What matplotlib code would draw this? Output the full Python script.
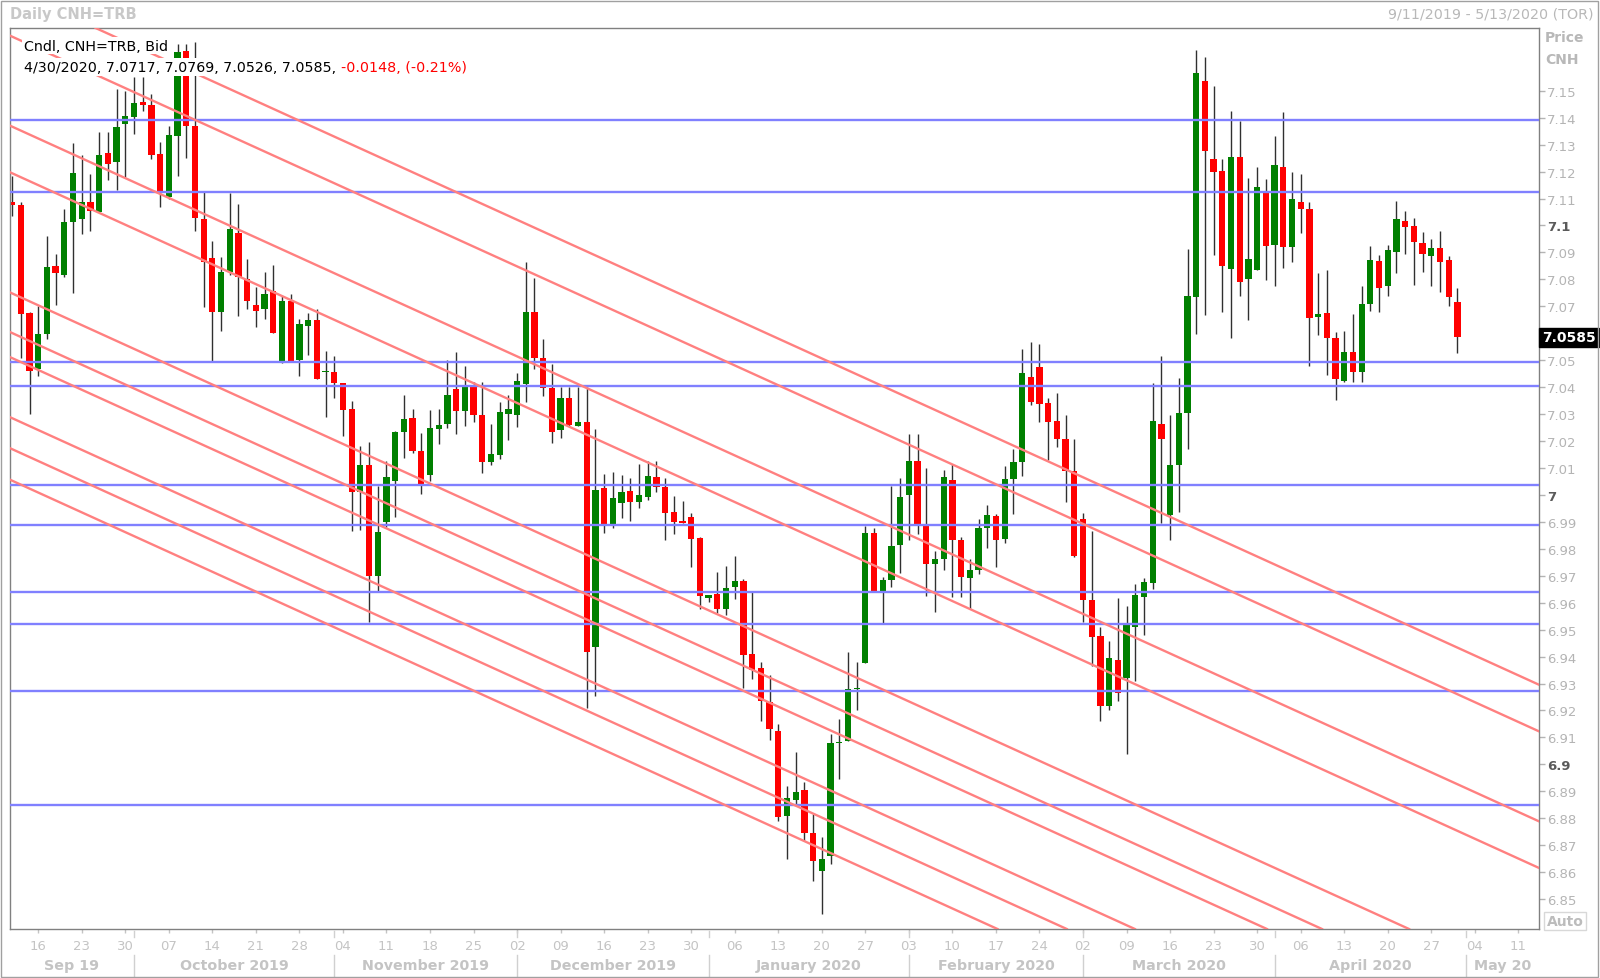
import numpy as np
import pandas as pd
import matplotlib
matplotlib.use('Agg')
import matplotlib.pyplot as plt
from matplotlib import transforms as mtrans
from matplotlib.patches import Rectangle

plt.rcParams['font.family'] = ['DejaVu Sans']

# trading days on the axis (weekdays), 9/11/2019 - 5/13/2020
dates = pd.bdate_range('2019-09-11', '2020-05-13')

# daily CNH=TRB bid candles, 9/11/2019 - 4/30/2020
opens = [
    7.1089, 7.1076, 7.0674, 7.0468, 7.0597, 7.0851, 7.0816, 7.1014, 7.1024, 7.1089,
    7.1050, 7.1270, 7.1237, 7.1375, 7.1404, 7.1460, 7.1448, 7.1266, 7.1107, 7.1334,
    7.1649, 7.1368, 7.1024, 7.0878, 7.0680, 7.0829, 7.0972, 7.0800, 7.0705, 7.0690,
    7.0758, 7.0498, 7.0718, 7.0502, 7.0626, 7.0650, 7.0455, 7.0455, 7.0415, 7.0319,
    7.0012, 7.0111, 6.9698, 6.9901, 7.0053, 7.0232, 7.0285, 7.0164, 7.0074, 7.0245,
    7.0263, 7.0393, 7.0312, 7.0405, 7.0297, 7.0121, 7.0149, 7.0300, 7.0297, 7.0412,
    7.0678, 7.0510, 7.0396, 7.0242, 7.0358, 7.0257, 7.0270, 6.9434, 7.0024, 6.9892,
    6.9969, 7.0016, 6.9973, 6.9991, 7.0065, 7.0031, 6.9936, 6.9901, 6.9917, 6.9839,
    6.9619, 6.9632, 6.9577, 6.9657, 6.9682, 6.9410, 6.9357, 6.9233, 6.9125, 6.8810,
    6.8869, 6.8905, 6.8747, 6.8604, 6.8660, 6.9078, 6.9086, 6.9278, 6.9375, 6.9859,
    6.9645, 6.9683, 6.9813, 6.9998, 7.0127, 6.9883, 6.9743, 6.9761, 7.0054, 6.9831,
    6.9691, 6.9722, 6.9878, 6.9920, 6.9835, 7.0060, 7.0121, 7.0437, 7.0476, 7.0340,
    7.0273, 7.0206, 7.0090, 6.9912, 6.9610, 6.9477, 6.9218, 6.9388, 6.9320, 6.9510,
    6.9622, 6.9673, 7.0264, 6.9924, 7.0111, 7.0304, 7.0735, 7.1538, 7.1247, 7.1204,
    7.0839, 7.1253, 7.0800, 7.0836, 7.1123, 7.0928, 7.1218, 7.0919, 7.1089, 7.1060,
    7.0660, 7.0675, 7.0581, 7.0424, 7.0529, 7.0455, 7.0709, 7.0870, 7.0777, 7.0903,
    7.1018, 7.0997, 7.0935, 7.0888, 7.0915, 7.0873, 7.0717]
highs = [
    7.1185, 7.1086, 7.0680, 7.0703, 7.0960, 7.0894, 7.1060, 7.1306, 7.1260, 7.1190,
    7.1346, 7.1346, 7.1507, 7.1500, 7.1550, 7.1550, 7.1488, 7.1309, 7.1370, 7.1674,
    7.1674, 7.1680, 7.1123, 7.0944, 7.0882, 7.1120, 7.1080, 7.0876, 7.0770, 7.0826,
    7.0854, 7.0740, 7.0746, 7.0653, 7.0675, 7.0690, 7.0535, 7.0514, 7.0415, 7.0350,
    7.0180, 7.0198, 7.0034, 7.0127, 7.0239, 7.0371, 7.0320, 7.0229, 7.0316, 7.0320,
    7.0500, 7.0529, 7.0480, 7.0418, 7.0420, 7.0263, 7.0346, 7.0370, 7.0453, 7.0866,
    7.0804, 7.0579, 7.0486, 7.0399, 7.0399, 7.0399, 7.0399, 7.0245, 7.0078, 7.0084,
    7.0074, 7.0062, 7.0115, 7.0127, 7.0127, 7.0062, 6.9995, 6.9979, 6.9933, 6.9843,
    6.9630, 6.9715, 6.9738, 6.9772, 6.9688, 6.9639, 6.9380, 6.9330, 6.9150, 6.8918,
    6.9045, 6.8933, 6.8814, 6.8730, 6.9114, 6.9170, 6.9417, 6.9380, 6.9883, 6.9876,
    6.9694, 7.0032, 7.0064, 7.0225, 7.0225, 7.0099, 6.9792, 7.0092, 7.0113, 6.9845,
    6.9761, 6.9910, 6.9962, 6.9929, 7.0108, 7.0171, 7.0542, 7.0568, 7.0562, 7.0360,
    7.0377, 7.0295, 7.0206, 6.9934, 6.9866, 6.9511, 6.9457, 6.9617, 6.9588, 6.9668,
    6.9690, 7.0414, 7.0517, 7.0295, 7.0435, 7.0912, 7.1650, 7.1624, 7.1517, 7.1247,
    7.1426, 7.1386, 7.1175, 7.1218, 7.1173, 7.1334, 7.1423, 7.1197, 7.1191, 7.1087,
    7.0824, 7.0836, 7.0606, 7.0610, 7.0672, 7.0777, 7.0923, 7.0891, 7.0928, 7.1092,
    7.1052, 7.1026, 7.0977, 7.0950, 7.0981, 7.0888, 7.0769]
lows = [
    7.1037, 7.0510, 7.0300, 7.0443, 7.0580, 7.0705, 7.0810, 7.0750, 7.0970, 7.0980,
    7.1050, 7.1170, 7.1130, 7.1180, 7.1340, 7.1426, 7.1245, 7.1068, 7.1100, 7.1185,
    7.1250, 7.0980, 7.0697, 7.0498, 7.0610, 7.0816, 7.0665, 7.0690, 7.0622, 7.0653,
    7.0601, 7.0490, 7.0498, 7.0440, 7.0520, 7.0430, 7.0290, 7.0360, 7.0220, 6.9867,
    6.9870, 6.9527, 6.9645, 6.9880, 6.9917, 7.0136, 7.0156, 7.0003, 7.0050, 7.0190,
    7.0247, 7.0226, 7.0255, 7.0270, 7.0081, 7.0110, 7.0133, 7.0205, 7.0251, 7.0346,
    7.0468, 7.0368, 7.0193, 7.0210, 7.0257, 7.0257, 6.9210, 6.9255, 6.9859, 6.9876,
    6.9913, 6.9905, 6.9950, 6.9983, 7.0010, 6.9834, 6.9855, 6.9896, 6.9731, 6.9577,
    6.9604, 6.9562, 6.9554, 6.9614, 6.9282, 6.9317, 6.9160, 6.9090, 6.8790, 6.8649,
    6.8853, 6.8716, 6.8569, 6.8444, 6.8632, 6.8947, 6.9086, 6.9202, 6.9375, 6.9645,
    6.9526, 6.9659, 6.9710, 6.9834, 6.9855, 6.9624, 6.9565, 6.9722, 6.9621, 6.9621,
    6.9575, 6.9705, 6.9803, 6.9733, 6.9821, 6.9929, 7.0070, 7.0332, 7.0269, 7.0128,
    7.0179, 6.9975, 6.9770, 6.9528, 6.9366, 6.9162, 6.9201, 6.9235, 6.9037, 6.9310,
    6.9480, 6.9650, 6.9895, 6.9832, 6.9937, 7.0172, 7.0598, 7.0668, 7.0891, 7.0680,
    7.0581, 7.0740, 7.0651, 7.0836, 7.0799, 7.0774, 7.0841, 7.0866, 7.0972, 7.0477,
    7.0594, 7.0445, 7.0354, 7.0420, 7.0420, 7.0418, 7.0684, 7.0678, 7.0737, 7.0824,
    7.0894, 7.0779, 7.0829, 7.0774, 7.0752, 7.0700, 7.0526]
closes = [
    7.1076, 7.0672, 7.0461, 7.0597, 7.0845, 7.0824, 7.1012, 7.1195, 7.1089, 7.1052,
    7.1260, 7.1230, 7.1365, 7.1405, 7.1455, 7.1448, 7.1262, 7.1129, 7.1336, 7.1643,
    7.1370, 7.1027, 7.0863, 7.0680, 7.0829, 7.0987, 7.0808, 7.0720, 7.0684, 7.0746,
    7.0601, 7.0721, 7.0498, 7.0635, 7.0650, 7.0430, 7.0457, 7.0415, 7.0316, 7.0012,
    7.0111, 6.9698, 6.9861, 7.0065, 7.0235, 7.0282, 7.0163, 7.0040, 7.0247, 7.0260,
    7.0370, 7.0312, 7.0399, 7.0297, 7.0121, 7.0152, 7.0307, 7.0319, 7.0422, 7.0678,
    7.0510, 7.0396, 7.0235, 7.0358, 7.0260, 7.0270, 6.9416, 7.0020, 6.9892, 6.9989,
    7.0010, 6.9975, 7.0000, 7.0069, 7.0028, 6.9933, 6.9898, 6.9896, 6.9836, 6.9624,
    6.9629, 6.9577, 6.9653, 6.9682, 6.9406, 6.9350, 6.9237, 6.9131, 6.8803, 6.8874,
    6.8899, 6.8747, 6.8643, 6.8649, 6.9079, 6.9080, 6.9278, 6.9280, 6.9859, 6.9645,
    6.9683, 6.9809, 6.9994, 7.0127, 6.9883, 6.9743, 6.9761, 7.0068, 6.9834, 6.9694,
    6.9722, 6.9878, 6.9925, 6.9834, 7.0060, 7.0121, 7.0452, 7.0346, 7.0338, 7.0269,
    7.0206, 7.0090, 6.9775, 6.9610, 6.9472, 6.9218, 6.9395, 6.9264, 6.9520, 6.9630,
    6.9677, 7.0273, 7.0206, 7.0111, 7.0304, 7.0738, 7.1565, 7.1275, 7.1200, 7.0849,
    7.1253, 7.0792, 7.0876, 7.1142, 7.0925, 7.1225, 7.0919, 7.1099, 7.1060, 7.0656,
    7.0672, 7.0581, 7.0430, 7.0529, 7.0455, 7.0709, 7.0873, 7.0767, 7.0910, 7.1024,
    7.0993, 7.0938, 7.0894, 7.0915, 7.0866, 7.0733, 7.0585]

# horizontal support / resistance levels
levels = [7.1392, 7.1125, 7.0492, 7.0404, 7.0037, 6.9888, 6.9641, 6.9521, 6.9273, 6.8849]

# parallel falling lines: price at first bar (9/11/2019) and at last axis day (5/13/2020)
chan_first = [7.1874, 7.1701, 7.1367, 7.1194, 7.0748, 7.0601, 7.0508, 7.0285, 7.0170, 7.0053]
chan_last = [6.9301, 6.9128, 6.8794, 6.8621, 6.8175, 6.8028, 6.7935, 6.7712, 6.7597, 6.7480]

month_names = ['Sep 19', 'October 2019', 'November 2019', 'December 2019', 'January 2020',
               'February 2020', 'March 2020', 'April 2020', 'May 20']

W, H = 1600, 979
fig = plt.figure(figsize=(W / 100, H / 100), dpi=100)
fig.patch.set_facecolor('white')
ax = fig.add_axes([10 / W, (H - 930) / H, 1529 / W, 901 / H])

o = np.array(opens)
h = np.array(highs)
l = np.array(lows)
c = np.array(closes)
x = np.arange(len(o))
up = c >= o
cols = np.where(up, '#008000', '#ff0000')

ax.vlines(x, l, h, color='#303030', lw=1, zorder=2)
ax.bar(x, np.maximum(np.abs(c - o), 0.0006), 0.72, np.minimum(o, c),
       color=cols, lw=0, zorder=2.5)

for lv in levels:
    ax.axhline(lv, color='#8080ff', lw=1.7, zorder=3)
last_i = len(dates) - 1
for p0, p1 in zip(chan_first, chan_last):
    ax.axline((0, p0), (last_i, p1), color='#ff8080', lw=1.7, zorder=3)

ax.set_xlim(-0.24, 175.37)
ax.set_ylim(6.8389, 7.1733)

for sp in ax.spines.values():
    sp.set_color('#808080')
    sp.set_linewidth(1)

last = len(c) - 1

# right price axis (the label under the last-price marker is hidden, as on the screen)
yt = np.round(np.arange(6.85, 7.1501, 0.01), 2)
ylab = []
for v in yt:
    s = f'{v:.2f}'
    if s in ('7.10', '6.90'):
        s = s[:3]
    elif s == '7.00':
        s = '7'
    if abs(v - c[last]) < 0.005:
        s = ''
    ylab.append(s)
ax.yaxis.tick_right()
ax.set_yticks(yt)
ax.set_yticklabels(ylab)
ax.tick_params(axis='y', colors='#b4b4b4', length=4, width=1, pad=2, labelsize=9.5)
for t in ax.get_yticklabels():
    if t.get_text() in ('7.1', '7', '6.9'):
        t.set_fontweight('bold')
        t.set_color('#5a5a5a')

# day ticks on Mondays
mondays = [i for i, d in enumerate(dates) if d.weekday() == 0]
ax.set_xticks(mondays)
ax.set_xticklabels([dates[i].strftime('%d') for i in mondays])
ax.tick_params(axis='x', colors='#c4c4c4', length=3, width=1, pad=4, labelsize=9.5)

# month row
trans = mtrans.blended_transform_factory(ax.transData, ax.transAxes)
starts = [i for i in range(1, len(dates)) if dates[i].month != dates[i - 1].month]
bounds = [-0.24] + starts + [175.37]
for k, name in enumerate(month_names):
    ax.text((bounds[k] + bounds[k + 1]) / 2, -0.0405, name, transform=trans,
            ha='center', va='center', fontsize=10.3, fontweight='bold', color='#c4c4c4')
for s in starts:
    ax.plot([s, s], [-0.029, -0.052], transform=trans, color='#d0d0d0', lw=1, clip_on=False)
    ax.plot([s, s], [-0.002, -0.009], transform=trans, color='#d0d0d0', lw=1, clip_on=False)

# legend header inside the plot
chg = c[last] - c[last - 1]
box = dict(boxstyle='square,pad=0.12', fc='white', ec='none')
ax.text(0.0092, 0.9805, 'Cndl, CNH=TRB, Bid', transform=ax.transAxes, fontsize=10.3,
        va='center', ha='left', color='black', bbox=box, zorder=6)
line2 = (f'{dates[last].month}/{dates[last].day}/{dates[last].year}, '
         f'{o[last]:.4f}, {h[last]:.4f}, {l[last]:.4f}, {c[last]:.4f}, ')
t2 = ax.text(0.0092, 0.9565, line2, transform=ax.transAxes, fontsize=10.3,
             va='center', ha='left', color='black', bbox=box, zorder=6)
ax.annotate(f'{chg:.4f}, ({chg / c[last - 1] * 100:.2f}%)', xy=(1, 0.5), xycoords=t2,
            va='center', ha='left', fontsize=10.3, color='#ff0000', bbox=box, zorder=6)

# last price marker
tr2 = mtrans.blended_transform_factory(fig.transFigure, ax.transData)
ax.text(1542 / W, c[last], f'{c[last]:.4f}', transform=tr2, fontsize=10, fontweight='bold',
        color='white', va='center', ha='left',
        bbox=dict(boxstyle='square,pad=0.2', fc='black', ec='black'), clip_on=False, zorder=7)

# chart furniture
fig.text(10 / W, 1 - 15 / H, 'Daily CNH=TRB', fontsize=10.5, fontweight='bold',
         color='#c8c8c8', va='center', ha='left')
fig.text(1594 / W, 1 - 15 / H, '9/11/2019 - 5/13/2020 (TOR)', fontsize=10.3,
         color='#b8b8b8', va='center', ha='right')
fig.text(1545 / W, 1 - 38 / H, 'Price', fontsize=10, fontweight='bold', color='#b8b8b8',
         va='center', ha='left')
fig.text(1545 / W, 1 - 60 / H, 'CNH', fontsize=10, fontweight='bold', color='#b8b8b8',
         va='center', ha='left')
fig.text(1565 / W, 1 - 922 / H, 'Auto', fontsize=10, fontweight='bold', color='#bcbcbc',
         va='center', ha='center',
         bbox=dict(boxstyle='square,pad=0.15', fc='white', ec='#d8d8d8'))
fig.patches.append(Rectangle((1 / W, 1 / H), (W - 3) / W, (H - 3) / H, transform=fig.transFigure,
                             fill=False, ec='#a0a0a0', lw=1))

fig.savefig('out.png', dpi=100, facecolor='white')
